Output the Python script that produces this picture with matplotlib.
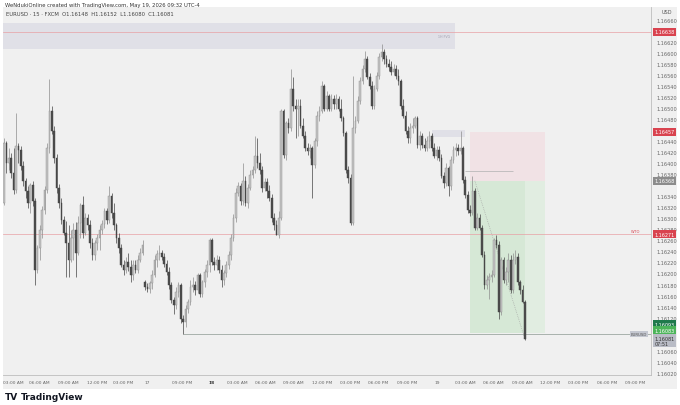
import numpy as np
import matplotlib
matplotlib.use("Agg")
from matplotlib import pyplot as plt
from matplotlib.patches import Rectangle

# EURUSD 15m candles (Fri 15 -> Tue 19 May)
closes = [
    1.16436, 1.16400, 1.16409, 1.16382, 1.16351, 1.16431, 1.16423, 1.16395, 1.16368, 1.16350,
    1.16328, 1.16360, 1.16332, 1.16206, 1.16247, 1.16279, 1.16315, 1.16351, 1.16427, 1.16494,
    1.16459, 1.16409, 1.16355, 1.16328, 1.16297, 1.16274, 1.16256, 1.16225, 1.16265, 1.16279,
    1.16238, 1.16292, 1.16324, 1.16274, 1.16301, 1.16287, 1.16256, 1.16234, 1.16256, 1.16265,
    1.16279, 1.16290, 1.16314, 1.16297, 1.16341, 1.16310, 1.16287, 1.16265, 1.16247, 1.16216,
    1.16207, 1.16220, 1.16211, 1.16198, 1.16216, 1.16207, 1.16225, 1.16238, 1.16251, 1.16175,
    1.16171, 1.16182, 1.16198, 1.16225, 1.16236, 1.16238, 1.16229, 1.16218, 1.16202, 1.16179,
    1.16152, 1.16143, 1.16166, 1.16179, 1.16117, 1.16112, 1.16135, 1.16148, 1.16175, 1.16180,
    1.16170, 1.16197, 1.16162, 1.16184, 1.16202, 1.16216, 1.16260, 1.16220, 1.16215, 1.16225,
    1.16206, 1.16189, 1.16200, 1.16215, 1.16233, 1.16265, 1.16301, 1.16346, 1.16359, 1.16332,
    1.16368, 1.16328, 1.16355, 1.16378, 1.16387, 1.16413, 1.16400, 1.16387, 1.16355, 1.16366,
    1.16350, 1.16337, 1.16301, 1.16287, 1.16270, 1.16301, 1.16494, 1.16414, 1.16472, 1.16463,
    1.16535, 1.16504, 1.16499, 1.16503, 1.16468, 1.16450, 1.16427, 1.16422, 1.16427, 1.16396,
    1.16440, 1.16486, 1.16495, 1.16539, 1.16499, 1.16521, 1.16499, 1.16517, 1.16508, 1.16517,
    1.16499, 1.16481, 1.16454, 1.16387, 1.16373, 1.16292, 1.16463, 1.16477, 1.16513, 1.16549,
    1.16571, 1.16589, 1.16557, 1.16540, 1.16503, 1.16535, 1.16558, 1.16593, 1.16602, 1.16589,
    1.16580, 1.16575, 1.16566, 1.16571, 1.16558, 1.16548, 1.16504, 1.16486, 1.16458, 1.16445,
    1.16463, 1.16468, 1.16481, 1.16432, 1.16449, 1.16432, 1.16427, 1.16441, 1.16449, 1.16427,
    1.16413, 1.16423, 1.16409, 1.16377, 1.16364, 1.16391, 1.16359, 1.16405, 1.16423, 1.16427,
    1.16422, 1.16427, 1.16369, 1.16342, 1.16315, 1.16310, 1.16350, 1.16283, 1.16301, 1.16283,
    1.16234, 1.16179, 1.16189, 1.16193, 1.16198, 1.16260, 1.16252, 1.16130, 1.16224, 1.16188,
    1.16202, 1.16224, 1.16170, 1.16225, 1.16229, 1.16184, 1.16170, 1.16148, 1.16081,
]
highs = [
    1.16445, 1.16440, 1.16427, 1.16418, 1.16427, 1.16490, 1.16436, 1.16431, 1.16404, 1.16373,
    1.16359, 1.16364, 1.16368, 1.16337, 1.16252, 1.16287, 1.16323, 1.16359, 1.16436, 1.16553,
    1.16503, 1.16467, 1.16416, 1.16362, 1.16337, 1.16305, 1.16296, 1.16287, 1.16278, 1.16292,
    1.16294, 1.16305, 1.16328, 1.16341, 1.16310, 1.16308, 1.16297, 1.16265, 1.16261, 1.16272,
    1.16287, 1.16297, 1.16319, 1.16319, 1.16359, 1.16346, 1.16328, 1.16292, 1.16274, 1.16254,
    1.16224, 1.16229, 1.16238, 1.16224, 1.16225, 1.16225, 1.16233, 1.16247, 1.16260, 1.16188,
    1.16182, 1.16186, 1.16206, 1.16233, 1.16243, 1.16251, 1.16243, 1.16238, 1.16225, 1.16211,
    1.16184, 1.16157, 1.16175, 1.16184, 1.16182, 1.16125, 1.16143, 1.16153, 1.16189, 1.16193,
    1.16186, 1.16200, 1.16200, 1.16189, 1.16209, 1.16224, 1.16265, 1.16265, 1.16229, 1.16233,
    1.16231, 1.16215, 1.16207, 1.16222, 1.16240, 1.16272, 1.16308, 1.16355, 1.16366, 1.16364,
    1.16400, 1.16377, 1.16362, 1.16387, 1.16395, 1.16450, 1.16445, 1.16418, 1.16395, 1.16373,
    1.16373, 1.16360, 1.16344, 1.16310, 1.16297, 1.16314, 1.16499, 1.16499, 1.16477, 1.16481,
    1.16571, 1.16557, 1.16517, 1.16517, 1.16517, 1.16481, 1.16459, 1.16436, 1.16434, 1.16431,
    1.16445, 1.16494, 1.16503, 1.16549, 1.16544, 1.16531, 1.16526, 1.16526, 1.16524, 1.16526,
    1.16522, 1.16517, 1.16486, 1.16459, 1.16395, 1.16380, 1.16558, 1.16485, 1.16521, 1.16557,
    1.16578, 1.16603, 1.16594, 1.16564, 1.16549, 1.16542, 1.16566, 1.16600, 1.16616, 1.16607,
    1.16596, 1.16589, 1.16585, 1.16580, 1.16578, 1.16571, 1.16553, 1.16517, 1.16495, 1.16467,
    1.16472, 1.16481, 1.16485, 1.16485, 1.16458, 1.16454, 1.16445, 1.16449, 1.16458, 1.16454,
    1.16436, 1.16431, 1.16431, 1.16416, 1.16384, 1.16400, 1.16395, 1.16413, 1.16431, 1.16436,
    1.16434, 1.16458, 1.16431, 1.16377, 1.16350, 1.16324, 1.16377, 1.16355, 1.16310, 1.16308,
    1.16288, 1.16240, 1.16197, 1.16200, 1.16207, 1.16265, 1.16269, 1.16258, 1.16229, 1.16229,
    1.16211, 1.16238, 1.16233, 1.16238, 1.16242, 1.16238, 1.16189, 1.16179, 1.16152,
]
lows = [
    1.16324, 1.16382, 1.16387, 1.16373, 1.16344, 1.16346, 1.16400, 1.16387, 1.16359, 1.16337,
    1.16319, 1.16310, 1.16323, 1.16179, 1.16200, 1.16225, 1.16265, 1.16308, 1.16346, 1.16418,
    1.16452, 1.16400, 1.16346, 1.16319, 1.16290, 1.16269, 1.16193, 1.16193, 1.16220, 1.16225,
    1.16193, 1.16233, 1.16265, 1.16265, 1.16269, 1.16279, 1.16247, 1.16225, 1.16225, 1.16243,
    1.16243, 1.16272, 1.16283, 1.16290, 1.16292, 1.16301, 1.16279, 1.16256, 1.16238, 1.16211,
    1.16197, 1.16200, 1.16204, 1.16184, 1.16189, 1.16200, 1.16200, 1.16220, 1.16233, 1.16170,
    1.16166, 1.16164, 1.16171, 1.16193, 1.16211, 1.16225, 1.16224, 1.16211, 1.16197, 1.16171,
    1.16146, 1.16126, 1.16135, 1.16157, 1.16110, 1.16090, 1.16103, 1.16128, 1.16143, 1.16166,
    1.16161, 1.16164, 1.16157, 1.16157, 1.16175, 1.16193, 1.16202, 1.16215, 1.16207, 1.16207,
    1.16200, 1.16175, 1.16179, 1.16193, 1.16209, 1.16225, 1.16258, 1.16294, 1.16341, 1.16324,
    1.16324, 1.16323, 1.16319, 1.16351, 1.16373, 1.16382, 1.16391, 1.16380, 1.16348, 1.16350,
    1.16337, 1.16332, 1.16294, 1.16279, 1.16269, 1.16265, 1.16297, 1.16409, 1.16405, 1.16454,
    1.16458, 1.16495, 1.16445, 1.16450, 1.16463, 1.16445, 1.16422, 1.16414, 1.16409, 1.16337,
    1.16391, 1.16431, 1.16477, 1.16490, 1.16494, 1.16495, 1.16494, 1.16495, 1.16499, 1.16499,
    1.16494, 1.16476, 1.16449, 1.16382, 1.16364, 1.16288, 1.16287, 1.16454, 1.16472, 1.16508,
    1.16544, 1.16566, 1.16553, 1.16535, 1.16499, 1.16499, 1.16530, 1.16553, 1.16585, 1.16580,
    1.16575, 1.16567, 1.16560, 1.16560, 1.16553, 1.16542, 1.16499, 1.16481, 1.16452, 1.16436,
    1.16436, 1.16454, 1.16463, 1.16427, 1.16423, 1.16427, 1.16422, 1.16422, 1.16427, 1.16422,
    1.16409, 1.16405, 1.16404, 1.16373, 1.16355, 1.16359, 1.16341, 1.16351, 1.16400, 1.16413,
    1.16414, 1.16416, 1.16364, 1.16337, 1.16310, 1.16305, 1.16306, 1.16278, 1.16278, 1.16278,
    1.16229, 1.16171, 1.16171, 1.16153, 1.16184, 1.16193, 1.16247, 1.16117, 1.16125, 1.16182,
    1.16179, 1.16184, 1.16164, 1.16164, 1.16218, 1.16179, 1.16162, 1.16146, 1.16080,
]
first_open = 1.16328
sunday_bar = 59          # first bar after the weekend gap
sunday_open = 1.16184

# time axis (bar positions of the labels)
time_pos = [3.8, 14.6, 26.8, 38.9, 49.8, 59.8, 74.5, 87.0, 97.5, 109.2, 120.9, 133.1,
            144.8, 156.5, 168.6, 181.2, 192.9, 204.6, 216.7, 228.5, 240.2, 252.3, 264.0]
time_labels = ["03:00 AM", "06:00 AM", "09:00 AM", "12:00 PM", "03:00 PM", "17",
               "09:00 PM", "18", "03:00 AM", "06:00 AM", "09:00 AM", "12:00 PM",
               "03:00 PM", "06:00 PM", "09:00 PM", "19", "03:00 AM", "06:00 AM",
               "09:00 AM", "12:00 PM", "03:00 PM", "06:00 PM", "09:00 PM"]

# drawings
supply_zone = (1.16607, 1.16654)
supply_bars = (-0.4, 188.7)
small_zone = (1.16448, 1.16460)
small_bars = (179, 193)
red_levels = [1.16638, 1.16271]
stop_price = 1.16457
entry_price = 1.16368
target_price = 1.16093
position_bars = (195, 226.4)
mid_line = 1.16386
mid_bars = (193, 213)
liquidity_price = 1.16090
liquidity_bar = 75

BG = "#f0f0f0"
RED = "#d9434f"

o_c = np.array(closes)
hi = np.array(highs)
lo = np.array(lows)
op = np.r_[first_open, o_c[:-1]]
op[sunday_bar] = sunday_open
hi = np.maximum(hi, np.maximum(op, o_c))
lo = np.minimum(lo, np.minimum(op, o_c))
x = np.arange(len(o_c))
x_max = 270.7

fig = plt.figure(figsize=(6.8, 4.06), dpi=100, facecolor="white")
fig.patches.append(Rectangle((3 / 680, 16 / 406), 674 / 680, 382 / 406,
                             transform=fig.transFigure, fc=BG, ec="none", zorder=-5))
ax = fig.add_axes([3 / 680, 30 / 406, 648 / 680, 368 / 406])
ax.set_zorder(2)
ax.set_facecolor(BG)
ax.set_xlim(-0.42, x_max)
ax.set_ylim(1.16016, 1.16683)

# zones
ax.add_patch(Rectangle((supply_bars[0], supply_zone[0]), supply_bars[1] - supply_bars[0],
                       supply_zone[1] - supply_zone[0], fc="#e0e0e7", ec="none", zorder=1))
ax.text(supply_bars[1] - 2, 1.16630, "1H FVG", fontsize=2.3, color="#a0a0b0",
        ha="right", va="center", zorder=2)
ax.add_patch(Rectangle((small_bars[0], small_zone[0]), small_bars[1] - small_bars[0],
                       small_zone[1] - small_zone[0], fc="#e0e0e7", ec="none", zorder=1))
pw = position_bars[1] - position_bars[0]
ax.add_patch(Rectangle((position_bars[0], entry_price), pw, stop_price - entry_price,
                       fc="#f1e2e5", ec="none", zorder=1))
ax.add_patch(Rectangle((position_bars[0], target_price), pw, entry_price - target_price,
                       fc="#e1ede1", ec="none", zorder=1))
ax.add_patch(Rectangle((position_bars[0], target_price), x[-1] - position_bars[0],
                       entry_price - target_price, fc="#d6e8d6", ec="none", zorder=1))
ax.hlines(mid_line, mid_bars[0], mid_bars[1], color="#b0b0b0", lw=0.5, zorder=2)
ax.plot([197, x[-1]], [entry_price, o_c[-1]], ls=":", color="#a0a0a0", lw=0.5, zorder=2)

for lvl in red_levels:
    ax.axhline(lvl, color="#e8a0a4", lw=0.5, zorder=2)
ax.text(266, 1.16271 + 0.00003, "W.TO", fontsize=2.6, color=RED, ha="right", va="bottom")
ax.hlines(liquidity_price, liquidity_bar, x_max, color="#a8b2ac", lw=0.7, zorder=2)

# candles
up = o_c >= op
ax.vlines(x[up], lo[up], hi[up], color="#8e8e8e", lw=0.5, zorder=3)
ax.vlines(x[~up], lo[~up], hi[~up], color="#444444", lw=0.5, zorder=3)
ax.bar(x[up], o_c[up] - op[up], bottom=op[up], width=0.7, color="#c4c4c4",
       edgecolor="#8e8e8e", lw=0.3, zorder=4)
ax.bar(x[~up], o_c[~up] - op[~up], bottom=op[~up], width=0.7, color="#4e4e4e",
       edgecolor="#3e3e3e", lw=0.3, zorder=4)

ax.text(x_max - 1.5, liquidity_price, "EURUSD", fontsize=2.8, color="#555", ha="right",
        va="center", zorder=6, bbox=dict(boxstyle="square,pad=0.2", fc="#c4c7d0", ec="none"))

# axes styling
for s in ["top", "left"]:
    ax.spines[s].set_visible(False)
for s in ["right", "bottom"]:
    ax.spines[s].set_color("#bdbdbd")
    ax.spines[s].set_linewidth(0.6)
ax.yaxis.tick_right()
yt = [t for t in np.round(np.arange(1.16020, 1.16661, 0.0002), 5)
      if t not in (1.16640, 1.16460, 1.16360, 1.16100, 1.16080)]
ax.set_yticks(yt, [f"{t:.5f}" for t in yt])
ax.tick_params(axis="y", length=0, pad=4, labelsize=3.6, labelcolor="#666666")
ax.set_xticks(time_pos, time_labels)
ax.tick_params(axis="x", length=0, pad=3.8, labelsize=3.2, labelcolor="#666666")
for lab in ax.get_xticklabels():
    if lab.get_text() == "18":
        lab.set_fontweight("bold")
        lab.set_color("#333333")


def tag(y, text, fc, tc="white"):
    ax.annotate(text, xy=(1, y), xycoords=("axes fraction", "data"), xytext=(2.5, 0),
                textcoords="offset points", fontsize=3.5, color=tc, va="center",
                ha="left", annotation_clip=False, zorder=10, linespacing=1.0,
                bbox=dict(boxstyle="square,pad=0.3", fc=fc, ec="none"))


tag(1.16638, "1.16638", RED)
tag(stop_price, "1.16457", RED)
tag(entry_price, "1.16368", "#8c8c8c")
tag(1.16271, "1.16271", RED)
tag(1.16108, "1.16093", "#1f7a4c")
tag(1.16097, "1.16083", "#4cb45a")
tag(1.16078, "1.16081\n07:51", "#b9bcc6", "#333333")

fig.text(662 / 680, 1 - 13 / 406, "USD", fontsize=3.6, color="#555", ha="left", va="center")
fig.text(5 / 680, 1 - 5 / 406, "WeNdukiOnline created with TradingView.com, May 19, 2026 09:32 UTC-4",
         fontsize=3.8, color="#333", va="center")
fig.text(6 / 680, 1 - 15 / 406,
         "EURUSD · 15 · FXCM  O1.16148  H1.16152  L1.16080  C1.16081",
         fontsize=3.8, color="#444", va="center", zorder=5)
fig.text(5 / 680, 1 - 398 / 406, "TV", fontsize=6.5, weight="heavy", color="#131722", va="center")
fig.text(21 / 680, 1 - 398 / 406, "TradingView", fontsize=6.5, weight="bold", color="#131722",
         va="center")

fig.savefig("out.png", dpi=100, facecolor="white")
